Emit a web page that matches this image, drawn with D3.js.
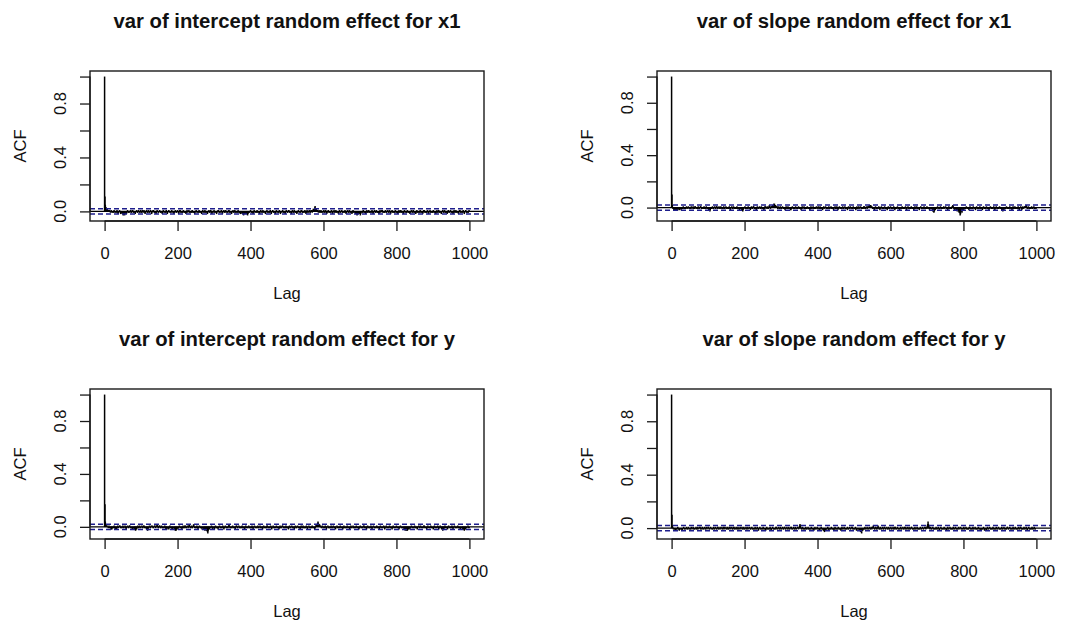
<!DOCTYPE html>
<html>
<head>
<meta charset="utf-8">
<script src="https://cdn.jsdelivr.net/npm/d3@7"></script>
<style>
  body { margin: 0; background: #fff; }
  text { font-family: 'Liberation Sans', Arial, sans-serif; fill: #111; }
</style>
</head>
<body>
<div id="chart"></div>
<script>
const titles = [
  'var of intercept random effect for x1',
  'var of slope random effect for x1',
  'var of intercept random effect for y',
  'var of slope random effect for y'
]

// autocorrelation at lags 0..1000, in hundredths
const acfInterceptX1 = [
  100,11,5,3,3,2,2,2,1,1, 1,1,0,1,0,0,-1,0,1,0, -1,0,0,-1,-1,0,1,0,-1,0, 0,-1,-1,0,1,0,-1,-2,-1,0, 0,1,0,-1,-2,-1,0,-1,-2,-1,
  -2,-3,-2,-1,-2,-3,-2,-1,0,-1, -2,-1,0,1,0,-1,-1,0,0,-1, 0,1,0,-1,-1,0,1,1,0,-1, -1,0,0,-1,-2,-1,0,0,1,0, -1,-1,0,1,0,0,-1,-1,0,1,
  0,-1,-1,0,1,0,-1,0,1,0, -1,-2,-1,0,0,1,0,-1,-1,0, 1,0,-1,-1,0,0,1,0,-1,-2, -1,0,0,1,1,0,-1,-1,0,0, -1,-2,-1,0,1,0,0,-1,-1,0,
  0,1,0,-1,-1,0,0,-1,-2,-1, 0,1,0,-1,0,0,-1,-1,0,1, 0,-1,-2,-1,0,0,1,0,-1,0, 0,-1,-1,0,1,0,-1,0,0,-1, -2,-1,0,0,1,0,-1,-1,0,0,
  1,0,-1,-2,-1,0,1,1,0,-1, -1,0,0,-1,-1,0,1,0,-1,-1, 0,0,-1,-2,-1,0,1,0,-1,0, 0,1,0,-1,-1,0,0,-1,-1,0, 1,0,-1,-1,0,0,-1,-2,-1,0,
  0,1,0,-1,0,0,-1,-1,0,1, 0,-1,-1,0,0,-1,-2,-1,0,1, 0,0,-1,-1,0,1,0,-1,-1,0, 0,-1,-2,-1,0,0,1,0,-1,-1, 0,1,0,-1,-2,-1,0,0,-1,0,
  1,0,-1,-1,0,0,-1,-2,-1,0, 0,1,1,0,-1,-1,0,0,-1,0, 1,0,-1,-2,-1,0,0,1,0,-1, -1,0,1,0,-1,0,0,-1,-1,0, 1,1,0,-1,-1,0,0,-1,-2,-1,
  0,0,1,0,-1,-1,0,1,0,-1, -1,0,0,-1,-1,0,1,0,-1,-1, 0,-1,-2,-1,0,0,-1,-2,-2,-1, -2,-3,-2,-1,-2,-2,-1,0,-1,-2, -1,-2,-3,-2,-1,0,-1,-1,0,0,
  1,0,-1,-1,0,0,-1,-2,-1,0, 1,0,-1,0,0,-1,-1,0,1,0, -1,-1,0,0,-1,-2,-1,0,1,0, 0,-1,-1,0,1,0,-1,-1,0,0, -1,-2,-1,0,0,1,0,-1,-1,0,
  0,-1,-1,0,1,0,-1,-2,-1,0, 0,1,0,-1,-1,0,0,-1,-2,-1, 0,1,0,-1,0,0,-1,-1,0,1, 0,-1,-2,-1,0,0,-1,0,1,0, -1,-1,0,0,-1,-2,-1,0,1,0,
  0,-1,-1,0,1,1,0,-1,-1,0, 0,-1,-2,-1,0,1,0,-1,-1,0, 1,0,-1,-1,0,0,-1,-2,-1,0, 0,1,0,-1,0,0,-1,-1,0,1, 1,0,-1,-1,0,0,-1,-1,0,1,
  0,-1,-2,-1,0,1,0,-1,-1,0, 0,1,0,-1,-1,0,1,1,0,-1, 0,1,2,1,1,2,3,4,2,1, 2,1,0,1,1,0,-1,0,1,0, -1,-1,0,1,0,-1,-1,0,0,-1,
  0,1,0,-1,-1,0,1,0,-1,-2, -1,0,0,1,0,-1,-1,0,0,-1, -1,0,1,0,-1,-2,-1,0,0,1, 0,-1,-1,0,1,0,-1,-1,0,0, -1,-2,-1,0,1,0,-1,-1,0,0,
  1,0,-1,-1,0,0,-1,-1,0,1, 0,-1,-2,-1,0,0,1,0,-1,-1, 0,1,0,-1,-1,0,0,-1,-2,-1, 0,1,0,-1,-1,0,0,-1,-2,-2, -1,-2,-3,-2,-1,-2,-2,-1,0,-1,
  -2,-3,-2,-1,0,0,-1,-1,0,1, 0,-1,-1,0,0,-1,-2,-1,0,1, 0,-1,-1,0,1,0,-1,-1,0,0, -1,-1,0,1,0,-1,-2,-1,0,0, 1,0,-1,-1,0,1,0,-1,-1,0,
  0,-1,-2,-1,0,1,0,-1,0,0, 1,1,0,-1,-1,0,0,-1,-1,0, 1,0,-1,-1,0,0,1,0,-1,-1, 0,1,0,-1,-2,-1,0,0,1,0, -1,-1,0,0,-1,-1,0,1,0,-1,
  -1,0,0,-1,-2,-1,0,1,0,-1, -1,0,1,0,-1,-1,0,0,-1,-2, -1,0,1,0,-1,0,0,-1,-1,0, 1,0,-1,-1,0,0,-1,-2,-1,0, 0,1,0,-1,-1,0,1,0,-1,-1,
  0,0,-1,-2,-1,0,1,0,-1,-1, 0,0,-1,-1,0,1,0,-1,-1,0, 0,-1,-2,-1,0,1,1,0,-1,-1, 0,0,-1,-1,0,1,0,-1,-2,-1, 0,0,1,0,-1,-1,0,0,-1,-1,
  0,1,0,-1,-1,0,0,-1,-2,-1, 0,1,0,-1,-1,0,1,0,-1,-1, 0,0,-1,-2,-1,0,0,1,0,-1, -1,0,1,0,-1,-1,0,0,-1,-2, -1,0,1,0,-1,-1,0,0,1,0,
  -1,-1,0,0,-1,-2,-1,0,1,0, -1,-1,0,1,0,-1,-1,0,0,-1, -2,-1,0,1,1,0,-1,-1,0,0, -1,-1,0,1,0,-1,-2,-1,0,0, 1,0,-1,-1,0,0,-1,-1,0,1,
  0
]

const acfSlopeX1 = [
  100,10,2,0,-1,-1,-2,-1,-2,-2, -1,-2,-2,-1,-2,-1,-1,-2,-1,0, -1,-2,-1,-1,0,-1,-2,-1,0,-1, -1,0,1,0,-1,-1,0,0,-1,-1, 0,1,0,-1,0,0,1,0,-1,0,
  0,-1,-1,0,1,0,-1,0,0,1, 0,-1,-1,0,1,1,0,-1,0,0, -1,-1,0,1,0,-1,-1,0,0,1, 1,0,-1,-1,0,0,-1,-1,0,1, 0,-1,-1,0,0,1,0,-1,-1,0,
  0,-1,-2,-1,-2,-3,-2,-1,0,-1, -1,0,1,0,-1,-1,0,0,1,0, -1,-1,0,1,1,0,-1,-1,0,0, 1,0,-1,-1,0,1,0,-1,0,0, -1,-1,0,1,0,-1,-1,0,0,1,
  0,-1,-1,0,0,-1,-1,0,1,0, -1,-2,-1,0,0,1,0,-1,-1,0, 1,0,-1,-1,0,0,-1,-1,0,1, 0,-1,-1,0,0,-1,-2,-1,0,0, -1,-1,-2,-1,-2,-3,-2,-1,-1,0,
  0,1,0,-1,-1,0,0,-1,-1,0, 1,0,-1,0,0,-1,-2,-1,0,1, 0,-1,-1,0,1,1,0,-1,-1,0, 0,-1,-2,-1,0,1,0,-1,-1,0, 0,1,0,-1,-1,0,1,0,-1,-1,
  0,0,-1,-2,-1,0,1,1,0,-1, 0,0,1,0,-1,-1,0,1,2,1, 0,-1,0,1,1,0,1,2,1,2, 3,2,3,2,1,2,1,0,1,1, 0,-1,0,1,0,-1,-1,0,1,0,
  -1,-1,0,0,1,0,-1,-1,0,0, -1,-2,-1,0,1,0,-1,-1,0,1, 0,-1,-1,0,0,-1,-2,-2,-1,0, 0,1,0,-1,-1,0,0,-1,-1,0, 1,0,-1,0,0,-1,-1,0,1,0,
  -1,-1,0,0,-1,-2,-1,0,1,0, -1,0,0,1,0,-1,-1,0,0,-1, -1,0,1,0,-1,-1,0,0,-1,-2, -1,0,1,0,-1,-1,0,0,1,0, -1,-1,0,0,-1,-1,0,1,0,-1,
  0,0,1,0,-1,-1,0,1,0,-1, -1,0,0,-1,-2,-1,0,1,0,-1, 0,0,1,0,-1,-1,0,0,-1,-1, 0,1,0,-1,-1,0,0,1,0,-1, -1,0,0,-1,-2,-1,0,0,1,0,
  -1,-1,0,1,0,-1,-2,-1,0,0, 1,0,-1,-1,0,0,-1,-1,0,1, 0,-1,-1,0,0,1,0,-1,-1,0, 0,-1,-2,-1,0,1,0,-1,-1,0, 1,0,-1,0,0,-1,-1,0,1,0,
  -1,-1,0,0,-1,-2,-1,0,1,0, -1,-1,0,1,0,-1,0,0,1,0, -1,-1,0,0,-1,-1,0,1,1,0, -1,-1,0,0,1,0,-1,0,1,1, 0,1,2,1,2,1,2,1,0,1,
  0,-1,-1,0,0,-1,-2,-1,0,1, 0,-1,-1,0,0,-1,-1,0,1,0, -1,-2,-1,0,0,1,0,-1,-1,0, 0,-1,-1,0,1,0,-1,-1,0,0, -1,-2,-1,0,1,0,-1,-1,0,0,
  1,0,-1,-1,0,0,-1,-1,0,1, 0,-1,-2,-1,0,0,-1,-1,0,1, 0,-1,-1,0,-1,-2,-1,0,0,-1, -1,0,1,0,-1,-1,0,0,-1,-1, 0,1,0,-1,-2,-1,0,0,1,0,
  -1,-1,0,0,-1,-1,0,1,0,-1, -1,0,0,-1,-2,-1,0,1,0,-1, -1,0,1,0,-1,-1,0,0,-1,-2, -1,0,0,1,0,-1,-1,0,0,-1, -1,0,1,0,-1,0,0,-1,-1,0,
  1,0,-1,-1,0,0,-1,-2,-1,0, 0,-1,-1,0,-1,-2,-3,-2,-3,-4, -3,-2,-1,-2,-1,0,-1,-1,0,1, 0,-1,0,0,-1,-1,0,1,0,-1, -1,0,0,-1,-1,0,1,0,-1,0,
  0,1,0,-1,-1,0,-1,-2,-1,0, 1,0,-1,-1,0,0,-1,-1,0,1, 1,2,1,0,-1,-1,-2,-1,0,-1, -2,-1,-2,-3,-2,-1,-2,-3,-4,-3, -4,-6,-5,-3,-2,-3,-4,-2,-1,-2,
  -1,-2,-1,0,0,-1,-1,0,1,0, -1,-1,0,0,-1,-2,-1,0,1,0, -1,-1,0,0,-1,-1,0,1,0,-1, 0,0,-1,-2,-1,0,1,0,-1,-1, 0,0,-1,-1,0,1,0,-1,-1,0,
  0,-1,-2,-1,0,1,0,-1,0,0, -1,-1,0,1,0,-1,-1,0,0,-1, -2,-1,0,0,1,0,-1,-1,0,0, -1,-1,0,1,0,-1,-2,-1,0,0, 1,0,-1,-1,0,0,-1,-1,0,1,
  0,-1,-1,0,-1,-2,-1,-2,-3,-2, -1,-2,-1,0,0,-1,-1,0,1,0, -1,-1,0,0,-1,-1,0,1,0,-1, 0,0,-1,-2,-1,0,1,0,-1,-1, 0,1,0,-1,-1,0,0,-1,-1,0,
  1,0,-1,-2,-1,0,0,1,0,-1, -2,-1,0,1,0,-1,0,0,1,1, 0,1,2,1,0,-1,-1,0,1,0, -1,-1,0,0,-1,-1,0,1,0,-1, -1,0,0,1,0,-1,-1,0,0,-1,
  0
]

const acfInterceptY = [
  100,17,4,2,1,1,0,1,0,0, -1,0,1,0,-1,-1,0,-1,-2,-1, -2,-1,0,-1,-1,0,1,0,-1,-2, -1,0,-1,-2,-1,0,1,0,-1,0, 0,1,1,0,-1,-1,0,0,-1,0,
  1,0,-1,-1,0,0,1,0,-1,-2, -1,0,0,1,0,-1,-1,0,1,1, 0,-1,-1,0,0,-1,-2,-1,0,0, -1,-2,-2,-1,-2,-3,-2,-1,-2,-1, 0,1,0,-1,-1,0,1,0,-1,-1,
  0,0,1,0,-1,-1,0,1,1,0, -1,-1,0,0,-1,-2,-1,-2,-3,-2, -1,0,0,1,0,-1,-1,0,1,0, 0,1,0,-1,-1,0,0,1,1,0, -1,0,0,1,2,1,0,-1,-1,0,
  1,1,0,-1,-1,0,1,0,-1,-1, 0,0,-1,-1,0,1,0,-1,-2,-1, -1,-2,-1,0,0,-1,-2,-1,0,1, 0,-1,-1,0,-1,-2,-2,-1,0,0, -1,-2,-1,-2,-3,-2,-3,-2,-1,0,
  -1,-2,-1,0,0,1,0,-1,-1,0, 0,-1,-2,-1,0,1,0,-1,-1,0, 1,1,0,-1,-1,0,0,1,0,-1, 0,1,2,1,0,-1,-1,0,1,0, -1,-1,0,1,2,1,0,-1,0,0,
  -1,-1,0,1,0,-1,-2,-1,0,0, 1,0,-1,-1,0,0,-1,-2,-1,0, 0,-1,-2,-1,-2,-3,-2,-1,-2,-3, -2,-3,-4,-5,-3,-2,-1,-2,-1,0, -1,-1,0,1,0,-1,-2,-1,0,0,
  -1,-2,-1,0,1,0,-1,-1,0,0, -1,-2,-1,0,0,1,0,-1,-1,0, 0,-1,-1,0,1,0,-1,-2,-1,0, 0,1,0,-1,-1,0,0,-1,-1,0, 1,2,1,0,-1,-1,0,0,-1,-1,
  0,1,0,-1,-1,0,0,-1,-2,-1, 0,1,1,0,-1,-1,0,0,1,0, -1,-1,0,0,-1,-1,0,1,0,-1, -1,0,0,-1,-2,-1,0,1,0,-1, 0,0,-1,-1,0,1,0,-1,-1,0,
  0,-1,-1,0,1,0,-1,-2,-1,0, 0,1,0,-1,-1,0,0,-1,-1,0, 1,0,-1,-1,0,0,1,0,-1,-1, 0,0,-1,-2,-1,0,1,0,-1,-1, 0,0,-1,-1,0,1,1,0,-1,-1,
  0,0,-1,-1,0,1,0,-1,-2,-1, 0,0,1,0,-1,-1,0,0,-1,-1, 0,1,0,-1,-1,0,0,-1,-2,-1, 0,1,0,-1,-1,0,0,1,1,0, -1,-1,0,0,-1,-1,0,1,0,-1,
  -1,0,0,-1,-2,-1,0,1,0,-1, -1,0,0,1,0,-1,-1,0,0,-1, -2,-1,0,1,0,-1,-1,0,0,1, 0,-1,-1,0,0,-1,-2,-1,0,1, 0,-1,-1,0,1,0,-1,-1,0,0,
  -1,-1,0,1,0,-1,-2,-1,0,0, 1,0,-1,-1,0,0,-1,-1,0,1, 0,-1,-1,0,0,-1,-2,-1,0,1, 1,2,1,2,3,4,3,2,1,2, 1,0,1,0,-1,-1,0,1,0,-1,
  0,0,-1,-1,0,1,0,-1,-2,-1, 0,0,1,0,-1,-1,0,0,-1,-1, 0,1,0,-1,-1,0,0,1,0,-1, -1,0,-1,-2,-1,0,0,1,0,-1, -1,0,0,-1,-1,0,1,0,-1,-1,
  0,0,-1,-2,-1,0,1,0,-1,-1, 0,0,-1,-1,0,1,0,-1,-1,0, 0,-1,-2,-1,0,1,0,-1,-1,0, 0,1,0,-1,-1,0,0,-1,-1,0, 1,0,-1,-1,0,0,-1,-2,-1,0,
  0,1,0,-1,-1,0,0,-1,-1,0, 1,1,0,-1,-1,0,0,-1,-2,-1, 0,1,0,-1,-1,0,0,-1,-1,0, 1,0,-1,-2,-1,0,0,1,0,-1, -1,0,0,-1,-1,0,1,0,-1,-1,
  0,0,-1,-2,-1,0,1,0,-1,-1, 0,0,-1,-1,0,1,0,-1,-2,-1, 0,0,1,0,-1,-1,0,0,-1,-1, 0,1,0,-1,-1,0,0,-1,-2,-1, 0,1,0,-1,-1,0,0,-1,-1,0,
  1,0,-1,-1,0,0,-1,-2,-1,0, 0,1,0,-1,-1,0,0,-1,-1,0, -1,-2,-1,-2,-3,-2,-1,-2,-3,-2, -3,-2,-1,-2,-1,0,-1,-2,-1,0, 0,1,0,-1,-1,0,0,-1,-1,0,
  1,0,-1,-1,0,0,-1,-2,-1,0, 0,1,0,-1,-1,0,1,0,-1,-1, 0,0,-1,-1,0,1,1,0,-1,-1, 0,0,-1,-2,-1,0,1,0,-1,0, 0,-1,-1,0,1,0,-1,-1,0,0,
  -1,-2,-1,0,1,0,-1,-1,0,0, -1,-1,0,1,0,-1,-2,-1,0,0, 1,0,-1,-1,-2,-1,-2,-3,-2,-1, -2,-1,0,1,0,-1,-1,0,0,-1, -2,-1,0,1,0,-1,-1,0,0,-1,
  -1,0,1,0,-1,-2,-1,0,0,1, 0,-1,-1,0,0,-1,-1,0,1,0, -1,-1,0,0,-1,-2,-1,0,0,-1, -1,-2,-1,-2,-1,-2,-3,-2,-1,-2, -1,0,-1,-1,0,0,1,0,-1,-1,
  0
]

const acfSlopeY = [
  100,10,2,1,0,-1,0,-1,-1,0, -1,-2,-1,0,-1,-1,0,1,0,-1, -1,-2,-1,0,0,-1,-1,0,-1,-2, -1,0,0,1,0,-1,-1,0,0,-1, 0,1,0,-1,-1,0,1,0,-1,0,
  0,-1,-1,0,1,0,-1,0,0,1, 0,-1,-1,0,0,-1,0,1,0,-1, -1,0,1,0,-1,0,0,1,1,0, -1,-1,0,0,1,0,-1,-1,0,0, 1,0,-1,-1,0,1,0,-1,0,0,
  1,1,0,-1,-1,0,0,1,0,-1, 0,0,-1,-1,0,1,0,-1,-1,0, 1,0,0,-1,-1,0,1,1,0,-1, -1,0,0,1,0,-1,0,0,1,0, -1,-1,0,1,1,0,-1,0,0,1,
  0,-1,-1,0,1,0,-1,-1,0,1, 1,0,-1,0,0,1,0,-1,-1,0, 1,1,0,-1,-1,0,0,1,0,-1, -1,0,1,0,-1,-1,0,0,1,0, -1,0,0,1,0,-1,-1,0,1,0,
  -1,-1,0,0,1,0,-1,-1,0,1, 0,-1,0,0,1,0,-1,-1,0,0, 1,0,-1,-1,0,0,-1,-1,0,1, 0,-1,-1,0,0,1,0,-1,-2,-1, 0,0,1,0,-1,-1,0,0,-1,-1,
  0,1,0,-1,-1,0,0,-1,-2,-1, 0,1,0,-1,-1,0,0,-1,-1,0, 1,0,-1,-2,-1,0,0,1,0,-1, -1,0,0,-1,-1,0,1,1,0,-1, -1,0,0,1,0,-1,-1,0,1,0,
  -1,-1,0,0,1,0,-1,-1,0,1, 1,0,-1,-1,0,0,1,0,-1,-1, 0,1,0,-1,-1,0,0,1,1,0, -1,-1,0,0,1,0,-1,-1,0,1, 0,-1,-1,0,0,1,1,0,-1,0,
  1,2,3,2,1,0,-1,-1,0,1, 0,-1,-1,0,0,-1,-1,0,1,0, -1,-1,0,0,1,0,-1,-1,0,0, -1,-1,0,1,0,-1,-1,0,0,-1, -2,-1,0,1,0,-1,-1,0,0,1,
  0,-1,-1,0,0,-1,-2,-1,0,0, 1,0,-1,-1,0,-1,-2,-1,-2,-3, -2,-1,-2,-1,0,-1,-1,0,1,0, -1,-2,-1,0,0,-1,-1,0,1,0, -1,-1,0,0,-1,-2,-1,0,1,0,
  -1,-1,0,0,-1,-1,0,1,0,-1, -1,0,0,-1,-2,-1,0,1,0,-1, -1,0,0,1,0,-1,-1,0,0,-1, -1,0,1,0,-1,-1,0,0,1,0, -1,-1,0,0,1,1,0,-1,-1,0,
  0,-1,-1,0,1,0,-1,-2,-1,0, 0,-1,-1,0,-1,-2,-1,-2,-3,-2, -3,-4,-2,-1,-2,-1,0,-1,-1,0, 1,0,-1,-1,0,0,1,0,-1,-1, 0,0,1,0,-1,-1,0,1,0,-1,
  0,1,1,2,1,0,-1,-1,0,1, 1,0,-1,-1,0,1,2,1,0,-1, -1,0,1,0,-1,-1,0,0,1,0, -1,-1,0,1,1,0,-1,-1,0,0, 1,0,-1,-1,0,1,0,-1,-1,0,
  0,1,0,-1,-1,0,0,1,0,-1, -1,0,1,1,0,-1,-1,0,0,1, 0,-1,-1,0,0,-1,-1,0,1,0, -1,-1,0,0,1,0,-1,-1,0,1, 1,0,-1,-1,0,0,1,0,-1,-1,
  0,1,0,-1,-1,0,0,1,1,0, -1,-1,0,0,-1,-1,0,1,0,-1, -1,0,0,1,0,-1,-1,0,0,-1, -1,0,1,0,-1,-1,0,0,1,0, -1,-1,0,0,1,1,0,-1,0,0,
  1,2,3,5,3,2,1,0,-1,0, 1,0,-1,-1,0,0,1,0,-1,-1, 0,0,-1,-1,0,1,0,-1,-1,0, 0,1,0,-1,-2,-1,0,0,1,0, -1,-1,0,0,-1,-1,0,1,0,-1,
  -1,0,0,-1,-2,-1,0,1,0,-1, -1,0,0,1,0,-1,-1,0,0,-1, -1,0,1,0,-1,-1,0,0,1,0, -1,-1,0,0,-1,-1,0,1,0,-1, 0,0,1,0,-1,-1,0,0,-1,-1,
  0,1,0,-1,-1,0,0,1,0,-1, -1,0,0,-1,-1,0,1,1,0,-1, -1,0,0,-1,-1,0,1,0,-1,-1, 0,0,1,0,-1,-1,0,0,-1,-1, 0,1,0,-1,-1,0,0,-1,-2,-1,
  0,0,-1,-1,0,1,0,-1,-2,-1, 0,0,-1,-2,-1,0,1,0,-1,-1, 0,0,1,0,-1,-1,0,0,-1,-1, 0,1,0,-1,-1,0,0,-1,-1,0, 1,0,-1,-1,0,0,1,0,-1,-1,
  0,0,-1,-1,0,1,0,-1,-1,0, 0,1,0,-1,-1,0,0,-1,-1,0, 1,1,0,-1,-1,0,0,1,0,-1, -1,0,0,-1,-1,0,1,0,-1,-1, 0,0,1,0,-1,-1,0,0,-1,-1,
  0,1,0,-1,-1,0,1,1,0,-1, -1,0,0,-1,-1,0,1,0,-1,-1, 0,0,1,0,-1,-2,-1,0,0,1, 0,-1,-1,0,0,-1,-1,0,1,0, -1,-1,0,0,1,0,-1,-1,0,0,
  0
]

const series = [acfInterceptX1, acfSlopeX1, acfInterceptY, acfSlopeY]

// 95% bound for white noise, 1.96 / sqrt(n)
const ciBound = 0.0196

const xTicks = [0, 200, 400, 600, 800, 1000]
const yTicks = [0, 0.2, 0.4, 0.6, 0.8, 1]
const yTickLabels = [0, 0.4, 0.8]

const width = 1066
const height = 623
const boxW = 394
const boxH = 150
const boxLeft = [90, 657]
const boxTop = [71, 389]

const svg = d3
  .select('#chart')
  .append('svg')
  .attr('width', width)
  .attr('height', height)
  .style('background', '#fff')

series.forEach((raw, i) => {
  const acf = raw.map((v, lag) => ({ lag: lag, value: v / 100 }))
  const x0 = boxLeft[i % 2]
  const y0 = boxTop[Math.floor(i / 2)]

  // R style: data range padded by 4% on each side
  const lagMax = acf.length - 1
  const xScale = d3
    .scaleLinear()
    .domain([-0.04 * lagMax, 1.04 * lagMax])
    .range([x0, x0 + boxW])

  const lo = Math.min(d3.min(acf, d => d.value), -ciBound)
  const hi = Math.max(d3.max(acf, d => d.value), ciBound)
  const pad = (hi - lo) * 0.04
  const yScale = d3
    .scaleLinear()
    .domain([lo - pad, hi + pad])
    .range([y0 + boxH, y0])

  const holder = svg.append('g')

  // acf bars
  holder
    .append('g')
    .selectAll('line')
    .data(acf)
    .enter()
    .append('line')
    .attr('x1', d => xScale(d.lag))
    .attr('x2', d => xScale(d.lag))
    .attr('y1', yScale(0))
    .attr('y2', d => yScale(d.value))
    .attr('stroke', '#000')
    .attr('stroke-width', 1.5)

  // zero line
  holder
    .append('line')
    .attr('x1', x0)
    .attr('x2', x0 + boxW)
    .attr('y1', yScale(0))
    .attr('y2', yScale(0))
    .attr('stroke', '#000')
    .attr('stroke-width', 1.3)

  // confidence bounds
  holder
    .selectAll('.ci')
    .data([ciBound, -ciBound])
    .enter()
    .append('line')
    .attr('x1', x0)
    .attr('x2', x0 + boxW)
    .attr('y1', d => yScale(d))
    .attr('y2', d => yScale(d))
    .attr('stroke', '#1e1e8c')
    .attr('stroke-width', 1.5)
    .attr('stroke-dasharray', '5,3')

  // box
  holder
    .append('rect')
    .attr('x', x0)
    .attr('y', y0)
    .attr('width', boxW)
    .attr('height', boxH)
    .attr('fill', 'none')
    .attr('stroke', '#1a1a1a')
    .attr('stroke-width', 1.4)

  // x axis
  const xAxis = d3
    .axisBottom(xScale)
    .tickValues(xTicks)
    .tickSize(10)
    .tickPadding(6)
    .tickFormat(d3.format('d'))

  holder
    .append('g')
    .attr('transform', `translate(0,${y0 + boxH})`)
    .call(xAxis)
    .call(g => g.select('.domain').attr('d', `M${xScale(0)},0H${xScale(lagMax)}`).attr('stroke', '#1a1a1a').attr('stroke-width', 1.3))
    .call(g => g.selectAll('line').attr('stroke', '#1a1a1a').attr('stroke-width', 1.3))
    .call(g =>
      g
        .selectAll('text')
        .attr('font-size', 16.5)
        .attr('font-family', "'Liberation Sans', Arial, sans-serif")
        .attr('fill', '#111')
        .attr('dy', null)
        .attr('y', 38)
    )

  // y axis
  const yAxis = d3
    .axisLeft(yScale)
    .tickValues(yTicks)
    .tickSize(10)
    .tickFormat('')

  holder
    .append('g')
    .attr('transform', `translate(${x0},0)`)
    .call(yAxis)
    .call(g => g.select('.domain').attr('d', `M0,${yScale(0)}V${yScale(1)}`).attr('stroke', '#1a1a1a').attr('stroke-width', 1.3))
    .call(g => g.selectAll('line').attr('stroke', '#1a1a1a').attr('stroke-width', 1.3))

  holder
    .selectAll('.y-label')
    .data(yTickLabels)
    .enter()
    .append('text')
    .attr('font-size', 16.5)
    .attr('text-anchor', 'middle')
    .attr('transform', d => `translate(${x0 - 24},${yScale(d)}) rotate(-90)`)
    .text(d3.format('.1f'))

  // titles
  holder
    .append('text')
    .attr('x', x0 + boxW / 2)
    .attr('y', y0 - 43)
    .attr('text-anchor', 'middle')
    .attr('font-size', 20.3)
    .attr('font-weight', 'bold')
    .text(titles[i])

  holder
    .append('text')
    .attr('x', x0 + boxW / 2)
    .attr('y', y0 + boxH + 78)
    .attr('text-anchor', 'middle')
    .attr('font-size', 16.5)
    .text('Lag')

  holder
    .append('text')
    .attr('text-anchor', 'middle')
    .attr('font-size', 16.5)
    .attr('transform', `translate(${x0 - 64},${y0 + boxH / 2}) rotate(-90)`)
    .text('ACF')
})
</script>
</body>
</html>
